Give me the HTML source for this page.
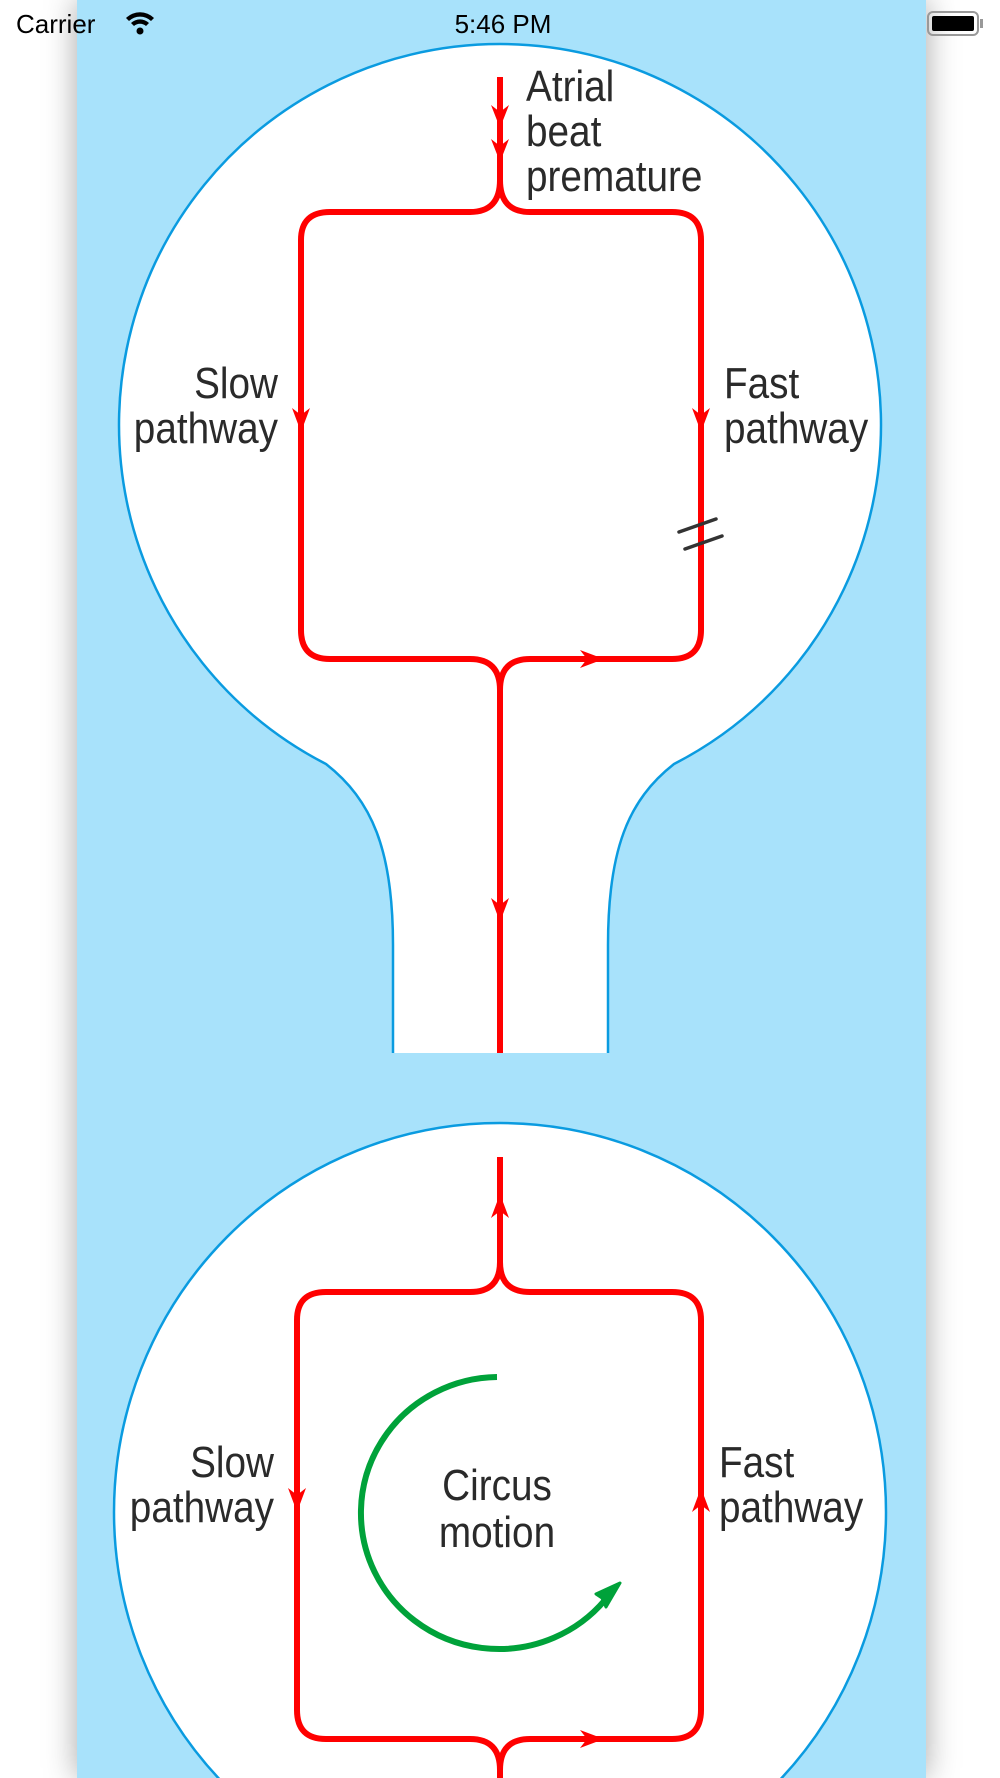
<!DOCTYPE html>
<html><head><meta charset="utf-8"><style>
html,body{margin:0;padding:0;background:#fff;width:1000px;height:1778px;overflow:hidden;}
body{position:relative;font-family:"Liberation Sans",sans-serif;}
.panel{position:absolute;left:77px;top:0;width:849px;height:1778px;background:#a8e2fb;box-shadow:0 0 30px rgba(0,0,0,0.35);}
svg{position:absolute;left:0;top:0;}
.lbl{font-family:"Liberation Sans",sans-serif;font-size:44px;fill:#2a2a2a;}
</style></head><body>
<div class="panel"></div>
<svg width="1000" height="1778" viewBox="0 0 1000 1778">
<text x="16" y="33" font-size="26" fill="#000" font-family="Liberation Sans, sans-serif">Carrier</text>
<g transform="translate(140,24)" fill="#000">
<path d="M-14,-6 A20,20 0 0 1 14,-6 L11,-3 A16,16 0 0 0 -11,-3z"/>
<path d="M-9,-1 A13,13 0 0 1 9,-1 L6,2 A9,9 0 0 0 -6,2z"/>
<circle cx="0" cy="7" r="3.5"/>
</g>
<text x="503" y="33" font-size="26" text-anchor="middle" fill="#000" font-family="Liberation Sans, sans-serif">5:46 PM</text>
<rect x="928" y="12" width="50" height="23" rx="5" fill="none" stroke="#999" stroke-width="2"/>
<rect x="932" y="16" width="42" height="15" rx="2" fill="#000"/>
<rect x="980" y="19" width="3" height="9" fill="#999"/>

<path d="M393,1053 L393,945 C393,850 372,800 326,764 A381,381 0 1 1 674,764 C628,800 608,850 608,945 L608,1053 Z" fill="#fff"/>
<path d="M393,1053 L393,945 C393,850 372,800 326,764 A381,381 0 1 1 674,764 C628,800 608,850 608,945 L608,1053" fill="none" stroke="#0a9be0" stroke-width="2.5"/>

<ellipse cx="500" cy="1512" rx="386" ry="389" fill="#fff" stroke="#0a9be0" stroke-width="2.5"/>

<g fill="none" stroke="#f00" stroke-width="6" stroke-linejoin="round">
<path d="M500,77 L500,180 Q500,212 470,212 L330,212 Q301,212 301,240 L301,630 Q301,659 330,659 L470,659 Q500,659 500,690 L500,1053"/>
<path d="M500,180 Q500,212 530,212 L672,212 Q701,212 701,240 L701,630 Q701,659 672,659 L530,659 Q500,659 500,690"/>
<path d="M500,1157 L500,1262 Q500,1292 470,1292 L326,1292 Q297,1292 297,1320 L297,1710 Q297,1739 326,1739 L470,1739 Q500,1739 500,1770 L500,1778"/>
<path d="M500,1262 Q500,1292 530,1292 L672,1292 Q701,1292 701,1320 L701,1710 Q701,1739 672,1739 L530,1739 Q500,1739 500,1770"/>
</g>
<g fill="#f00">
<path d="M491,105 L500,128 L509,105 L500,112z"/>
<path d="M491,139 L500,162 L509,139 L500,146z"/>
<path d="M292,408 L301,432 L310,408 L301,415z"/>
<path d="M692,408 L701,432 L710,408 L701,415z"/>
<path d="M580,650 L604,659 L580,668 L587,659z"/>
<path d="M491,898 L500,922 L509,898 L500,905z"/>
<path d="M491,1218 L500,1194 L509,1218 L500,1211z"/>
<path d="M288,1488 L297,1512 L306,1488 L297,1495z"/>
<path d="M692,1512 L701,1488 L710,1512 L701,1505z"/>
<path d="M580,1730 L604,1739 L580,1748 L587,1739z"/>
</g>
<g stroke="#333" stroke-width="3.5" stroke-linecap="round">
<line x1="679" y1="532" x2="716" y2="519"/>
<line x1="685" y1="549" x2="722" y2="536"/>
</g>
<path d="M497,1377 A138,136 0 1 0 605,1600" fill="none" stroke="#00a23a" stroke-width="6"/>
<path d="M620,1583 L596,1594 L602,1598 L606,1607z" fill="#00a23a" stroke="#00a23a" stroke-width="3" stroke-linejoin="round"/>

<g class="lbl">
<g transform="translate(526,0) scale(0.88,1)"><text x="0" y="101">Atrial</text><text x="0" y="146">beat</text><text x="0" y="191">premature</text></g>
<g transform="translate(278,0) scale(0.88,1)"><text x="0" y="398" text-anchor="end">Slow</text><text x="0" y="443" text-anchor="end">pathway</text></g>
<g transform="translate(724,0) scale(0.88,1)"><text x="0" y="398">Fast</text><text x="0" y="443">pathway</text></g>
<g transform="translate(274,0) scale(0.88,1)"><text x="0" y="1477" text-anchor="end">Slow</text><text x="0" y="1522" text-anchor="end">pathway</text></g>
<g transform="translate(719,0) scale(0.88,1)"><text x="0" y="1477">Fast</text><text x="0" y="1522">pathway</text></g>
<g transform="translate(497,0) scale(0.88,1)"><text x="0" y="1500" text-anchor="middle">Circus</text><text x="0" y="1547" text-anchor="middle">motion</text></g>
</g>
</svg>
</body></html>
